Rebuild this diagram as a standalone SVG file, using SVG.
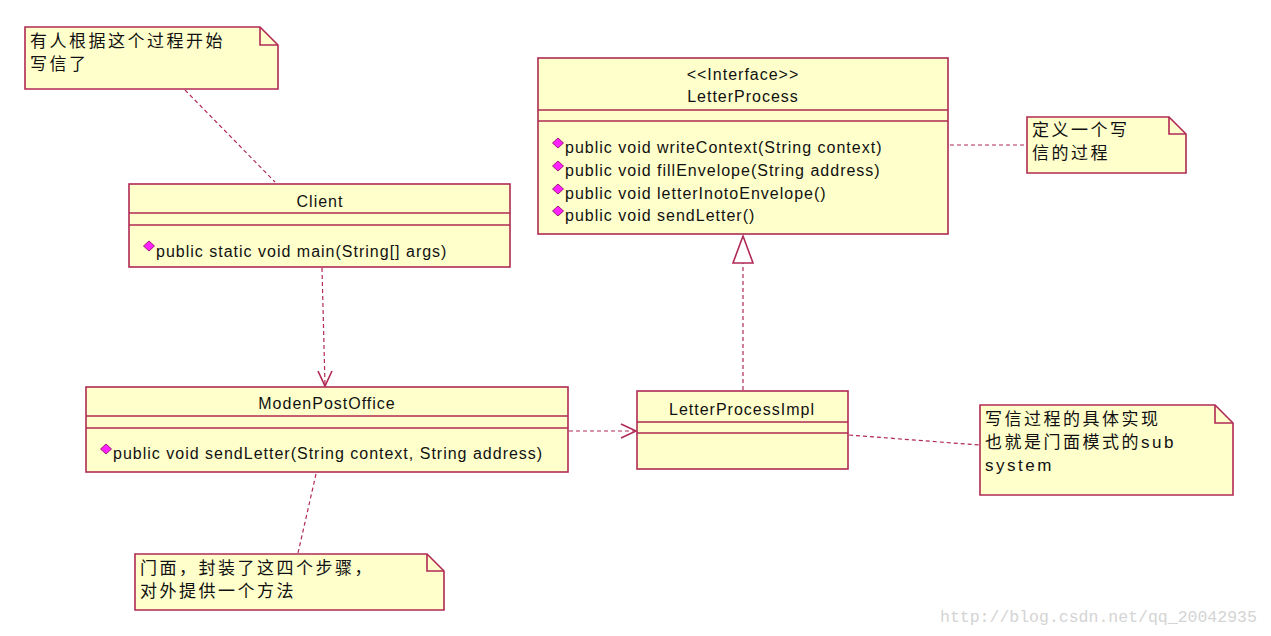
<svg xmlns="http://www.w3.org/2000/svg" width="1271" height="636" viewBox="0 0 1271 636">
<style>
.box{fill:#ffffcc;stroke:#b02a55;stroke-width:1.6}
.ln{stroke:#b02a55;stroke-width:1.6;fill:none}
.dash{stroke:#b02a55;stroke-width:1.2;fill:none;stroke-dasharray:4,3}
.t{font-family:"Liberation Sans",Arial,sans-serif;font-size:16px;fill:#111;letter-spacing:1px}
.c{text-anchor:middle}
.cjk{font-family:"Liberation Sans","Noto Sans CJK SC",sans-serif;font-size:17px;fill:#111;letter-spacing:2.5px}
.dia{fill:#ff22ff;stroke:#80005a;stroke-width:0.8}
</style>
<defs>
<path id="d" class="dia" d="M0,-5 L5.5,0 L0,5 L-5.5,0 Z"/>
</defs>
<rect width="1271" height="636" fill="#ffffff"/>
<g id="connectors">
<line class="dash" x1="185" y1="90" x2="275" y2="182"/>
<line class="dash" x1="322" y1="268" x2="325" y2="385"/>
<polyline class="ln" points="318,371 325,386 332,371"/>
<line class="dash" x1="569" y1="431" x2="635" y2="431"/>
<polyline class="ln" points="621,424 636,431 621,438"/>
<line class="dash" x1="743" y1="390" x2="743" y2="263"/>
<polygon class="ln" fill="#fff" points="743,236 733,263 753,263"/>
<line class="dash" x1="950" y1="145" x2="1026" y2="145"/>
<line class="dash" x1="849" y1="435" x2="979" y2="445"/>
<line class="dash" x1="316" y1="474" x2="298" y2="553"/>
</g>
<g id="note1">
<path class="box" d="M25,27 H260 L278,45 V89 H25 Z"/>
<path class="ln" d="M260,27 V45 H278"/>
<text class="cjk" x="30" y="47">有人根据这个过程开始</text>
<text class="cjk" x="30" y="70">写信了</text>
</g>
<g id="LetterProcess">
<rect class="box" x="538" y="58" width="410" height="176"/>
<line class="ln" x1="538" y1="110" x2="948" y2="110"/>
<line class="ln" x1="538" y1="121" x2="948" y2="121"/>
<text class="t c" x="743" y="80">&lt;&lt;Interface&gt;&gt;</text>
<text class="t c" x="743" y="102">LetterProcess</text>
<use href="#d" x="558" y="143"/>
<text class="t" x="565" y="153">public void writeContext(String context)</text>
<use href="#d" x="558" y="166"/>
<text class="t" x="565" y="176">public void fillEnvelope(String address)</text>
<use href="#d" x="558" y="189"/>
<text class="t" x="565" y="199">public void letterInotoEnvelope()</text>
<use href="#d" x="558" y="211"/>
<text class="t" x="565" y="221">public void sendLetter()</text>
</g>
<g id="note2">
<path class="box" d="M1027,117 H1169 L1186,134 V173 H1027 Z"/>
<path class="ln" d="M1169,117 V134 H1186"/>
<text class="cjk" x="1032" y="136">定义一个写</text>
<text class="cjk" x="1032" y="159">信的过程</text>
</g>
<g id="Client">
<rect class="box" x="129" y="184" width="381" height="83"/>
<line class="ln" x1="129" y1="213" x2="510" y2="213"/>
<line class="ln" x1="129" y1="225" x2="510" y2="225"/>
<text class="t c" x="320" y="207">Client</text>
<use href="#d" x="149" y="246"/>
<text class="t" x="156" y="257">public static void main(String[] args)</text>
</g>
<g id="ModenPostOffice">
<rect class="box" x="86" y="387" width="482" height="85"/>
<line class="ln" x1="86" y1="416" x2="568" y2="416"/>
<line class="ln" x1="86" y1="428" x2="568" y2="428"/>
<text class="t c" x="327" y="409">ModenPostOffice</text>
<use href="#d" x="106" y="449"/>
<text class="t" x="113" y="459">public void sendLetter(String context, String address)</text>
</g>
<g id="LetterProcessImpl">
<rect class="box" x="637" y="391" width="211" height="78"/>
<line class="ln" x1="637" y1="422" x2="848" y2="422"/>
<line class="ln" x1="637" y1="433" x2="848" y2="433"/>
<text class="t c" x="742" y="415">LetterProcessImpl</text>
</g>
<g id="note3">
<path class="box" d="M980,405 H1215 L1233,423 V495 H980 Z"/>
<path class="ln" d="M1215,405 V423 H1233"/>
<text class="cjk" x="985" y="425">写信过程的具体实现</text>
<text class="cjk" x="985" y="448">也就是门面模式的sub</text>
<text class="cjk" x="985" y="471">system</text>
</g>
<g id="note4">
<path class="box" d="M135,554 H427 L444,571 V610 H135 Z"/>
<path class="ln" d="M427,554 V571 H444"/>
<text class="cjk" x="140" y="574">门面，封装了这四个步骤，</text>
<text class="cjk" x="140" y="597">对外提供一个方法</text>
</g>
<text x="940" y="622" font-family="Liberation Mono,monospace" font-size="16.5" fill="#d4d4d4">http://blog.csdn.net/qq_20042935</text>
</svg>
